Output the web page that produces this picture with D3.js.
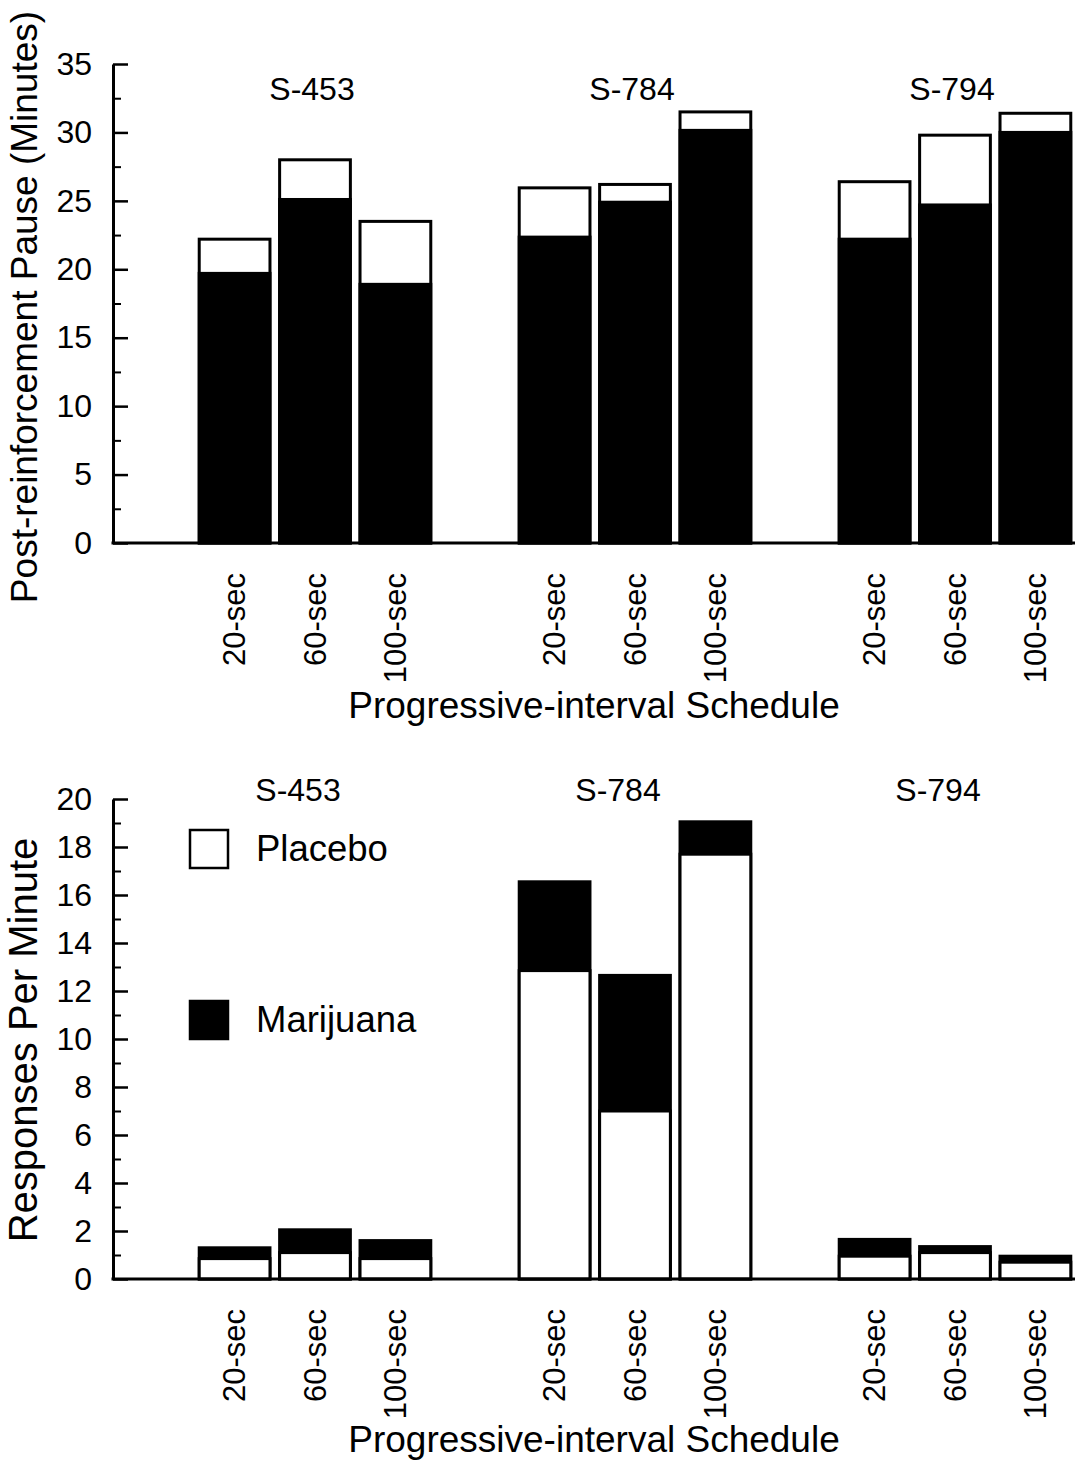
<!DOCTYPE html>
<html>
<head>
<meta charset="utf-8">
<script src="https://cdn.jsdelivr.net/npm/d3@7"></script>
<style>
  body { margin: 0; background: #fff; }
  text { font-family: "Liberation Sans", Arial, Helvetica, sans-serif; fill: #000; }
</style>
</head>
<body>
<svg id="chart" width="1087" height="1467"></svg>
<script>
// Subjects and progressive-interval schedules
const subjects = ["S-453", "S-784", "S-794"];
const schedules = ["20-sec", "60-sec", "100-sec"];

// Post-reinforcement pause (minutes), listed subject by subject, schedule order
const pausePlacebo   = [22.2, 28.0, 23.5, 25.95, 26.2, 31.5, 26.4, 29.8, 31.4];
const pauseMarijuana = [19.7, 25.1, 18.9, 22.35, 24.9, 30.15, 22.2, 24.7, 30.0];

// Responses per minute, same order
const ratePlacebo   = [0.85, 1.1, 0.85, 12.85, 7.0, 17.7, 0.95, 1.1, 0.7];
const rateMarijuana = [1.3, 2.05, 1.6, 16.55, 12.65, 19.05, 1.65, 1.35, 0.95];

// Axis ticks
const pauseTicks = [0, 5, 10, 15, 20, 25, 30, 35];
const pauseMinorTicks = [2.5, 7.5, 12.5, 17.5, 22.5, 27.5, 32.5];
const rateTicks = [0, 2, 4, 6, 8, 10, 12, 14, 16, 18, 20];
const rateMinorTicks = [1, 3, 5, 7, 9, 11, 13, 15, 17, 19];

const legendItems = ["Placebo", "Marijuana"];

const svg = d3.select("#chart");

const axisX = 113, axisRight = 1075;

// Subject groups and bars inside each group
const xGroup = d3.scaleBand().domain(subjects).range([155, 1115]).padding(0);
const xBar = d3.scaleBand().domain(schedules).range([0, xGroup.bandwidth()])
  .paddingInner(0.12).paddingOuter(0.55);

function rows(placebo, marijuana) {
  const out = [];
  subjects.forEach((s, i) => schedules.forEach((c, j) => {
    const k = i * schedules.length + j;
    out.push({ subject: s, schedule: c, placebo: placebo[k], marijuana: marijuana[k] });
  }));
  return out;
}

function drawPanel(opt) {
  const g = svg.append("g");
  const y = d3.scaleLinear().domain(opt.domain).range(opt.range);
  const data = rows(opt.placebo, opt.marijuana);
  const bx = d => xGroup(d.subject) + xBar(d.schedule);

  // Y axis: major ticks with labels, minor ticks without
  g.append("g").attr("transform", `translate(${axisX},0)`)
    .call(d3.axisLeft(y).tickValues(opt.minor).tickSizeInner(-8).tickSizeOuter(0).tickFormat(""))
    .call(a => a.select(".domain").remove())
    .call(a => a.selectAll("line").attr("stroke", "#000").attr("stroke-width", 2));
  g.append("g").attr("transform", `translate(${axisX},0)`)
    .call(d3.axisLeft(y).tickValues(opt.ticks).tickSizeInner(-15).tickSizeOuter(0).tickPadding(21))
    .call(a => a.select(".domain").attr("stroke", "#000").attr("stroke-width", 3))
    .call(a => a.selectAll("line").attr("stroke", "#000").attr("stroke-width", 2.5))
    .call(a => a.selectAll("text").attr("font-size", 32).attr("fill", "#000")
      .style("font-family", '"Liberation Sans", Arial, sans-serif'));

  // Bars: the taller series behind, the shorter one in front
  opt.order.forEach(key => {
    g.append("g").selectAll("rect").data(data).join("rect")
      .attr("x", bx)
      .attr("width", xBar.bandwidth())
      .attr("y", d => y(d[key]))
      .attr("height", d => y(0) - y(d[key]))
      .attr("fill", key === "placebo" ? "#fff" : "#000")
      .attr("stroke", "#000")
      .attr("stroke-width", 3);
  });

  // Baseline
  g.append("line")
    .attr("x1", axisX - 1.5).attr("x2", axisRight)
    .attr("y1", y(0)).attr("y2", y(0))
    .attr("stroke", "#000").attr("stroke-width", 3);

  // Schedule labels under each bar, rotated
  g.append("g").selectAll("text").data(data).join("text")
    .attr("transform", d => `translate(${bx(d) + xBar.bandwidth() / 2},${y(0) + 30}) rotate(-90)`)
    .attr("text-anchor", "end")
    .attr("dy", "0.35em")
    .attr("font-size", 31)
    .text(d => d.schedule);

  // Subject labels over each group
  g.append("g").selectAll("text").data(subjects).join("text")
    .attr("x", s => xGroup(s) + xGroup.bandwidth() / 2 + opt.subjectDx)
    .attr("y", opt.subjectY)
    .attr("text-anchor", "middle")
    .attr("font-size", 32)
    .text(s => s);

  // Axis titles
  g.append("text")
    .attr("x", 594).attr("y", opt.xTitleY)
    .attr("text-anchor", "middle")
    .attr("font-size", 37)
    .text("Progressive-interval Schedule");
  g.append("text")
    .attr("transform", `translate(37,${opt.yTitleCenter}) rotate(-90)`)
    .attr("text-anchor", "middle")
    .attr("font-size", opt.yTitleSize)
    .text(opt.yTitle);

  return { g, y };
}

drawPanel({
  domain: [0, 35], range: [543, 64],
  ticks: pauseTicks, minor: pauseMinorTicks,
  placebo: pausePlacebo, marijuana: pauseMarijuana,
  order: ["placebo", "marijuana"],
  subjectDx: -3, subjectY: 100,
  xTitleY: 718,
  yTitle: "Post-reinforcement Pause (Minutes)", yTitleCenter: 307, yTitleSize: 37
});

drawPanel({
  domain: [0, 20], range: [1279, 799],
  ticks: rateTicks, minor: rateMinorTicks,
  placebo: ratePlacebo, marijuana: rateMarijuana,
  order: ["marijuana", "placebo"],
  subjectDx: -17, subjectY: 801,
  xTitleY: 1452,
  yTitle: "Responses Per Minute", yTitleCenter: 1040, yTitleSize: 40
});

// Legend
const legendY = d3.scalePoint().domain(legendItems).range([849, 1020]);
const lg = svg.append("g").selectAll("g").data(legendItems).join("g")
  .attr("transform", d => `translate(190,${legendY(d)})`);
lg.append("rect")
  .attr("x", 0).attr("y", -19).attr("width", 38).attr("height", 38)
  .attr("fill", d => d === "Placebo" ? "#fff" : "#000")
  .attr("stroke", "#000").attr("stroke-width", 2.5);
lg.append("text")
  .attr("x", 66).attr("y", 12)
  .attr("font-size", 36.5)
  .text(d => d);
</script>
</body>
</html>
